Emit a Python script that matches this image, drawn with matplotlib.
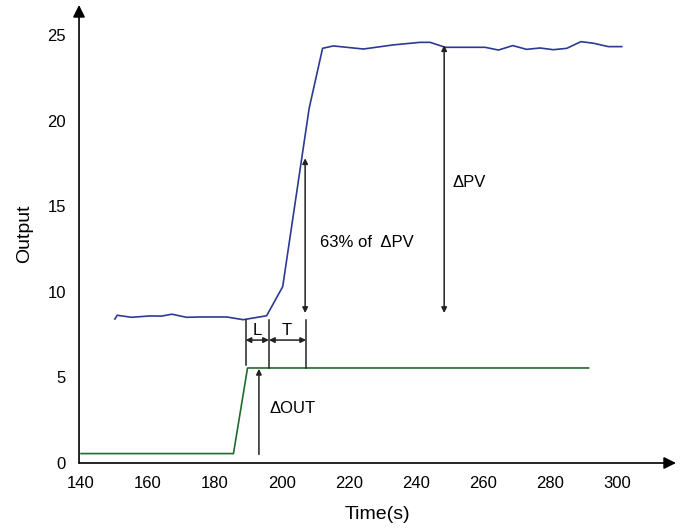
import matplotlib
matplotlib.use("Agg")
import matplotlib.pyplot as plt

plt.rcParams['font.family'] = ['Liberation Sans', 'DejaVu Sans']

# process value (blue)
pv_time = [150.1, 150.8, 155.1, 160.6, 164.0, 167.1, 171.5, 176.0, 183.5, 188.4,
           195.4, 200.2, 208.1, 212.1, 215.3, 224.3, 233.2, 241.2, 244.2, 248.7,
           260.6, 264.6, 268.9, 273.0, 277.0, 281.0, 285.0, 289.2, 292.9, 297.4, 301.4]
pv_value = [8.41, 8.63, 8.51, 8.59, 8.58, 8.69, 8.51, 8.53, 8.53, 8.37,
            8.60, 10.30, 20.72, 24.22, 24.36, 24.18, 24.42, 24.57, 24.57, 24.28,
            24.28, 24.12, 24.38, 24.16, 24.24, 24.14, 24.22, 24.61, 24.52, 24.32, 24.32]

# controller output step (green)
out_time = [140, 185.5, 189.7, 291.5]
out_value = [0.55, 0.55, 5.55, 5.55]

x_ticks = [140, 160, 180, 200, 220, 240, 260, 280, 300]
y_ticks = [0, 5, 10, 15, 20, 25]

fig = plt.figure(figsize=(6.86, 5.28), dpi=100)
ax = fig.add_axes([0.1152, 0.1231, 0.8702, 0.8674])

ax.plot(out_time, out_value, color='#1f6b2c', lw=1.2)
ax.plot(pv_time, pv_value, color='#2b3a92', lw=1.2)

ax.set_xlim(139.4, 317.6)
ax.set_ylim(0, 26.75)
ax.set_xticks(x_ticks)
ax.set_yticks(y_ticks)
ax.tick_params(length=0, labelsize=12)
ax.tick_params(axis='x', pad=9)
ax.tick_params(axis='y', pad=9.5)
for s in ax.spines.values():
    s.set_visible(False)

# axis lines with arrow heads
ax.annotate('', xy=(1, 0), xytext=(0, 0), xycoords='axes fraction',
            arrowprops=dict(arrowstyle='-|>', color='black', lw=1.2,
                            mutation_scale=18, shrinkA=0, shrinkB=0))
ax.annotate('', xy=(0, 1), xytext=(0, 0), xycoords='axes fraction',
            arrowprops=dict(arrowstyle='-|>', color='black', lw=1.2,
                            mutation_scale=18, shrinkA=0, shrinkB=0))

ax.set_xlabel('Time(s)', fontsize=14, labelpad=11)
ax.set_ylabel('Output', fontsize=14, labelpad=10)

ac = '#222222'
sm = dict(color=ac, lw=1.1, mutation_scale=8, shrinkA=0, shrinkB=0)

# L / T markers
for xv, y0 in [(189.1, 5.72), (196.1, 5.55), (207.2, 5.55)]:
    ax.plot([xv, xv], [y0, 8.35], color=ac, lw=1.1)
ax.annotate('', xy=(189.1, 7.18), xytext=(196.1, 7.18), arrowprops=dict(arrowstyle='<|-|>', **sm))
ax.annotate('', xy=(196.1, 7.18), xytext=(207.2, 7.18), arrowprops=dict(arrowstyle='<|-|>', **sm))
ax.text(192.6, 7.75, 'L', fontsize=12, ha='center', va='center')
ax.text(201.5, 7.75, 'T', fontsize=12, ha='center', va='center')

# delta OUT
ax.annotate('', xy=(193.1, 5.5), xytext=(193.1, 0.5), arrowprops=dict(arrowstyle='-|>', **sm))
ax.text(196.3, 3.2, '\u0394OUT', fontsize=12, ha='left', va='center')

# 63% of delta PV
ax.annotate('', xy=(206.9, 17.8), xytext=(206.9, 8.76), arrowprops=dict(arrowstyle='<|-|>', **sm))
ax.text(211.3, 12.85, '63% of  \u0394PV', fontsize=12, ha='left', va='center')

# delta PV
ax.annotate('', xy=(248.4, 24.4), xytext=(248.4, 8.76), arrowprops=dict(arrowstyle='<|-|>', **sm))
ax.text(250.9, 16.36, '\u0394PV', fontsize=12, ha='left', va='center')

fig.savefig('out.png', dpi=100)
